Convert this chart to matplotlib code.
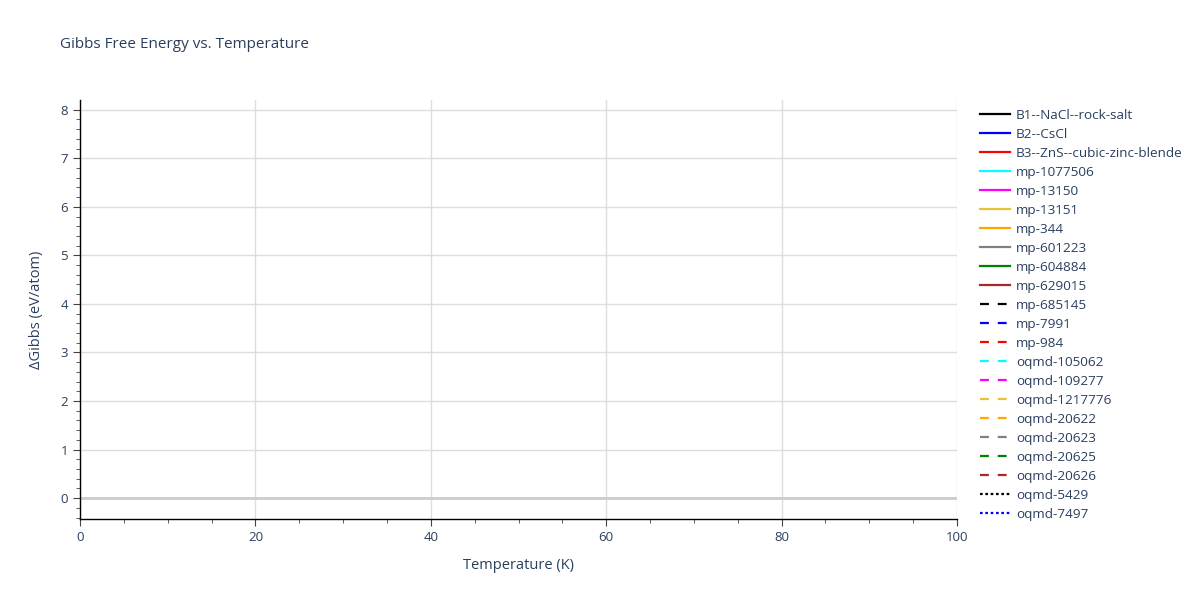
import matplotlib
matplotlib.use("Agg")
import matplotlib.pyplot as plt

plt.rcParams['font.family'] = ['Open Sans', 'DejaVu Sans']

names = ["B1--NaCl--rock-salt", "B2--CsCl", "B3--ZnS--cubic-zinc-blende",
         "mp-1077506", "mp-13150", "mp-13151", "mp-344", "mp-601223",
         "mp-604884", "mp-629015", "mp-685145", "mp-7991", "mp-984",
         "oqmd-105062", "oqmd-109277", "oqmd-1217776", "oqmd-20622",
         "oqmd-20623", "oqmd-20625", "oqmd-20626", "oqmd-5429", "oqmd-7497"]
colors = ["black", "blue", "red", "cyan", "magenta", "#e8c234", "orange",
          "gray", "green", "brown"]
# no data points visible in the reference: each series is empty
temperatures = [[] for _ in names]
gibbs = [[] for _ in names]

x_ticks = [0, 20, 40, 60, 80, 100]
y_ticks = [0, 1, 2, 3, 4, 5, 6, 7, 8]

fig = plt.figure(figsize=(12, 6), dpi=100)
ax = fig.add_axes([80/1200, 1-519/600, (957-80)/1200, (519-100)/600])

for i, n in enumerate(names):
    if i < 10:
        ls = '-'
    elif i < 20:
        ls = (0, (4, 4))
    else:
        ls = (0, (1.2, 1.2))
    c = colors[i % 10]
    ax.plot(temperatures[i], gibbs[i], color=c, linestyle=ls, linewidth=1.6, label=n)

ax.set_xlim(0, 100)
ax.set_ylim(-0.43, 8.2)
ax.set_xticks(x_ticks)
ax.set_yticks(y_ticks)
ax.set_xticks([v for v in range(0, 101, 5) if v % 20], minor=True)
ax.set_yticks([v/5 for v in range(-2, 41) if v % 5], minor=True)
ax.grid(True, which='major', color='#dddddd', linewidth=1)
ax.set_axisbelow(True)
ax.axhline(0, color='#cccccc', linewidth=2, zorder=1)
for s in ['top', 'right']:
    ax.spines[s].set_visible(False)
for s in ['left', 'bottom']:
    ax.spines[s].set_color('black')
    ax.spines[s].set_linewidth(1)
ax.tick_params(which='major', direction='out', length=5, color='#444444',
               labelsize=9.5, labelcolor='#2a3f5f')
ax.tick_params(which='minor', direction='out', length=3, color='#444444')
ax.set_xlabel("Temperature (K)", fontsize=10.5, color='#2a3f5f', labelpad=10)
ax.set_ylabel("ΔGibbs (eV/atom)", fontsize=10.5, color='#2a3f5f', labelpad=12)

fig.text(60/1200, 1-45/600, "Gibbs Free Energy vs. Temperature", fontsize=11,
         color='#2a3f5f', va='center', ha='left')

leg = fig.legend(loc='upper left', bbox_to_anchor=(980/1200, 1-109/600),
                 frameon=False, fontsize=9.7, handlelength=2.23, handletextpad=0.45,
                 labelspacing=0.445, borderaxespad=0, borderpad=0)
for t in leg.get_texts():
    t.set_color('#2a3f5f')

fig.savefig("out.png", dpi=100)
